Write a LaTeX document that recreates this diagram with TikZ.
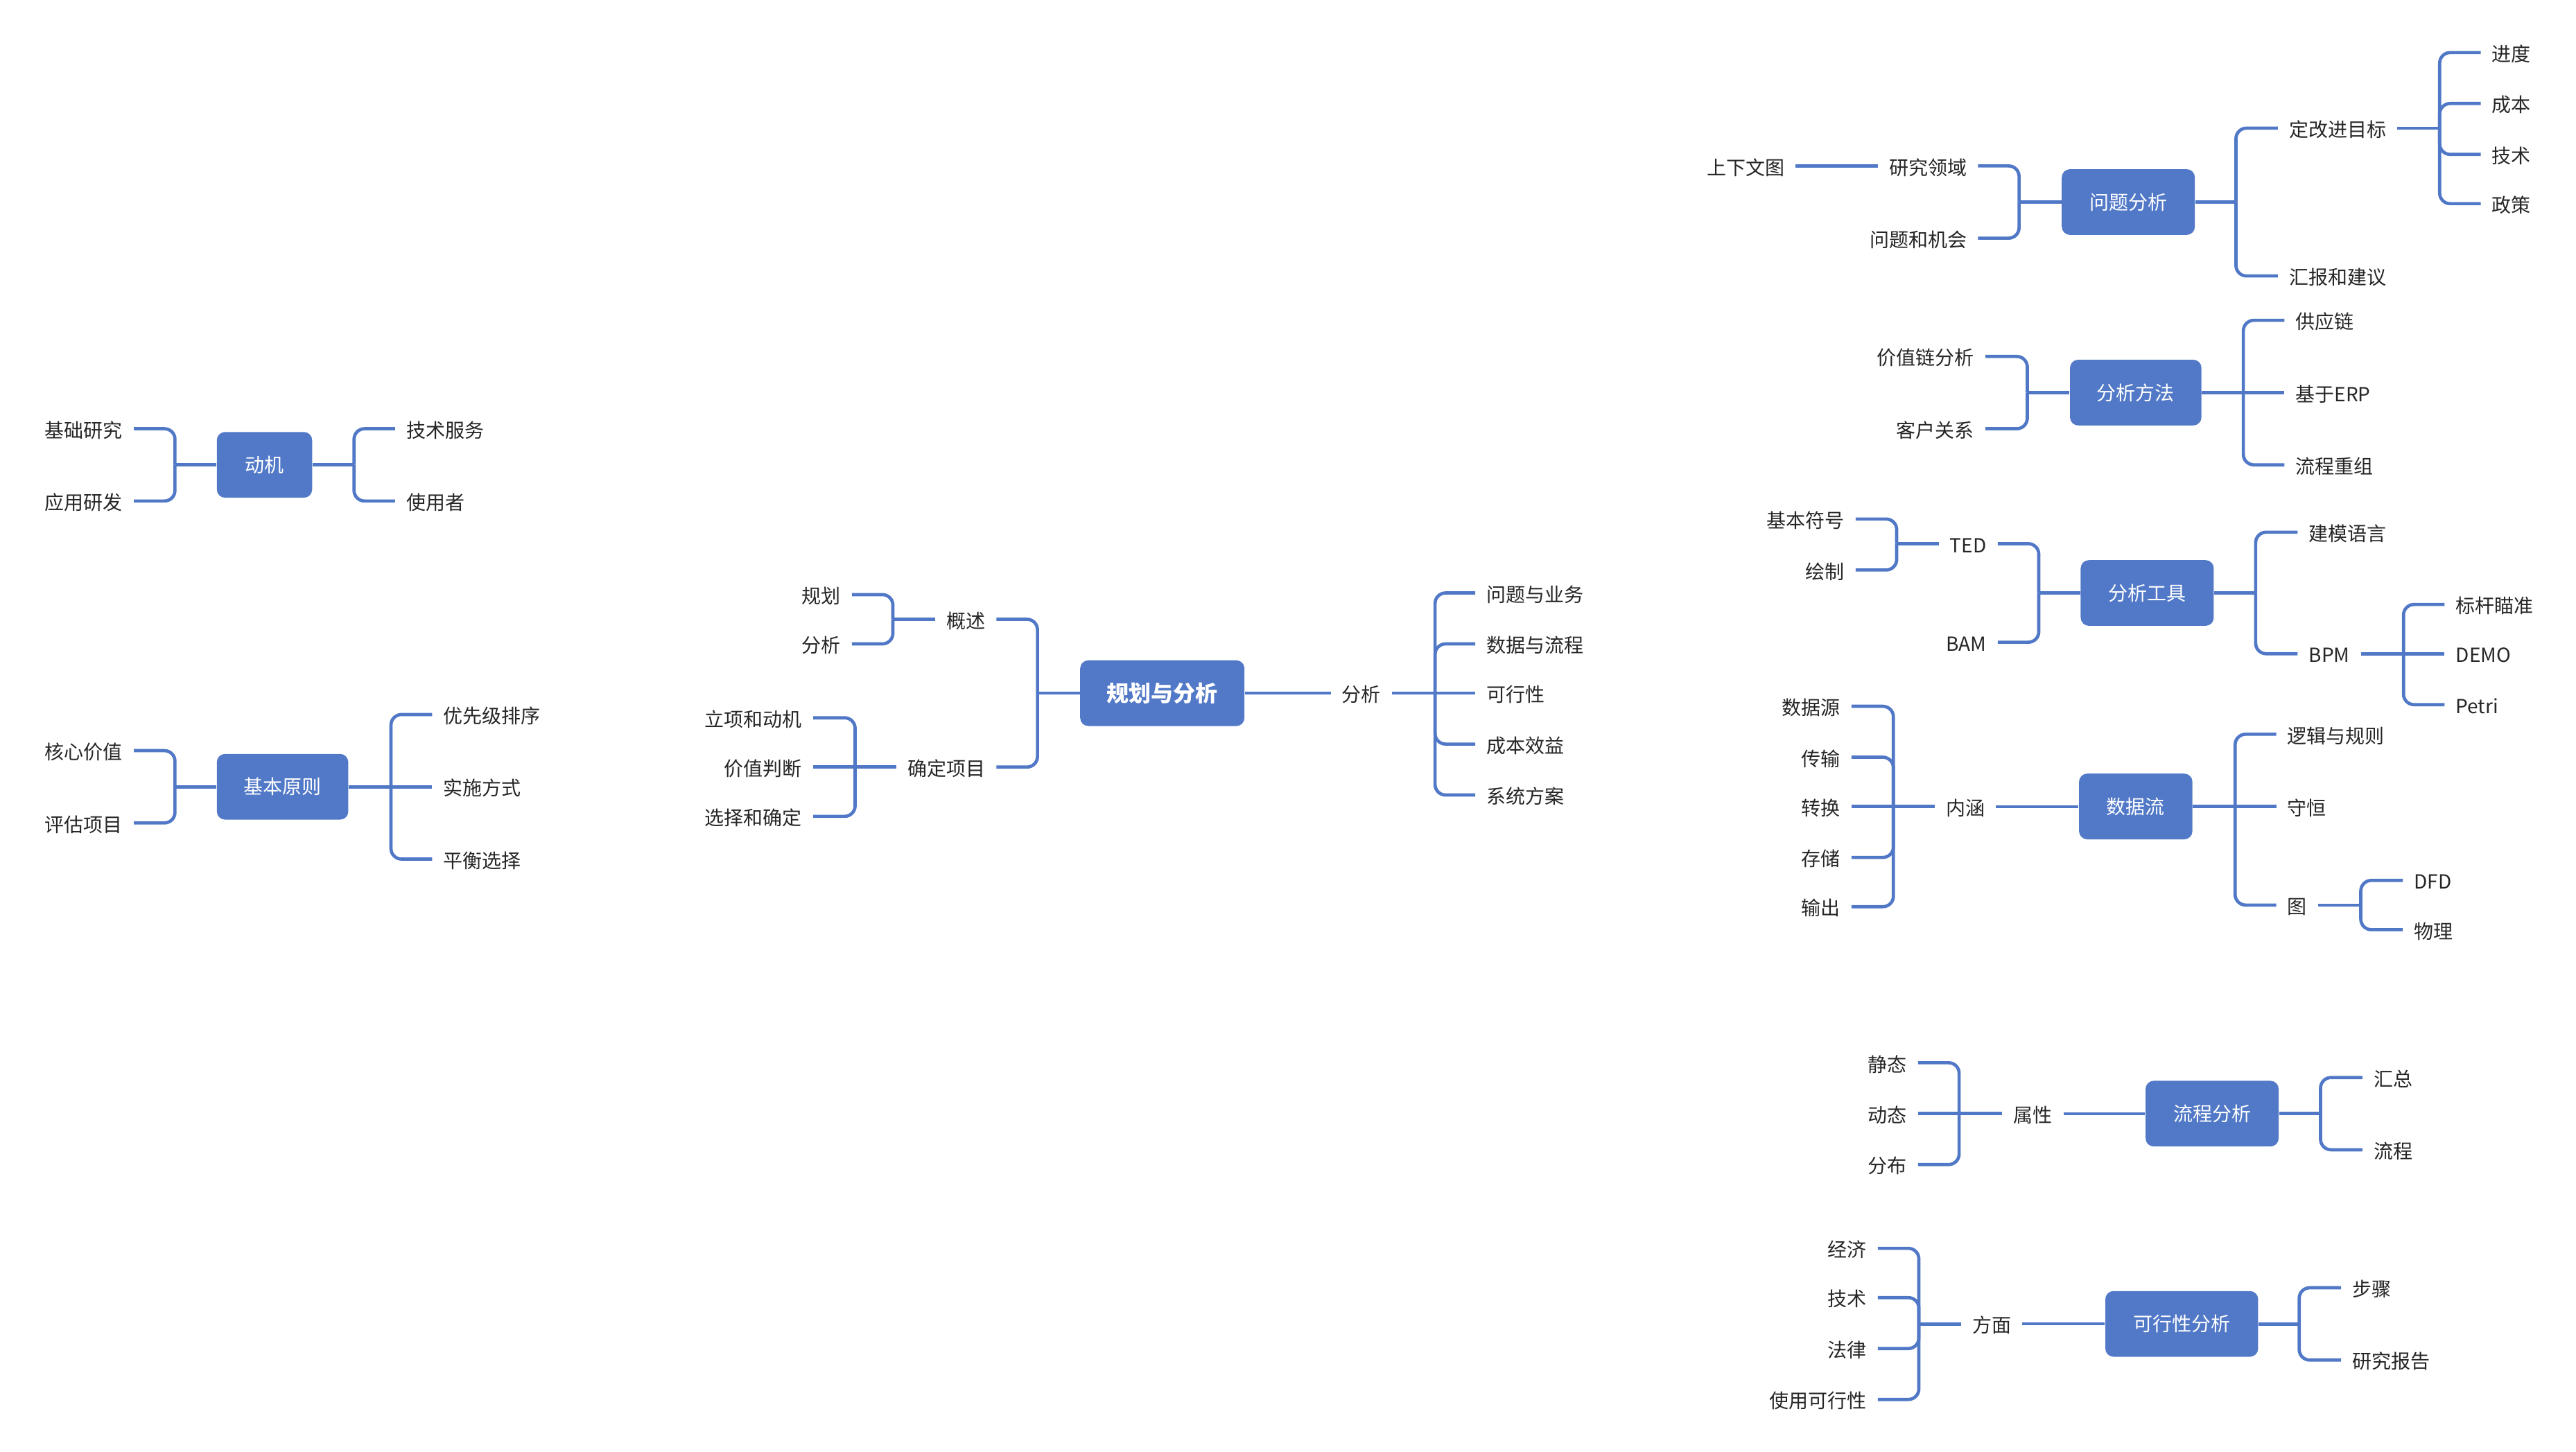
\documentclass[tikz,border=0pt]{standalone}
\usepackage{fontspec}
\newfontfamily\cjk{Noto Sans CJK SC}
\definecolor{lineblue}{RGB}{80,120,199}
\definecolor{boxblue}{RGB}{82,121,199}
\definecolor{txt}{RGB}{38,38,38}
\newcommand\kidsR[2]{\foreach \k in {#2}{\draw[conn] (#1) |- (\k.west);}}
\newcommand\kidsL[2]{\foreach \k in {#2}{\draw[conn] (#1) |- (\k.east);}}
\begin{document}
\begin{tikzpicture}[x=0.025cm,y=-0.025cm,
  conn/.style={draw=lineblue,line width=1.4pt,rounded corners=0.16cm},
  thinconn/.style={draw=lineblue,line width=1.15pt},
  topic/.style={rectangle,rounded corners=0.125cm,fill=boxblue,text=white,font=\cjk\fontsize{8.4}{10}\selectfont,minimum height=1cm,inner sep=0pt},
  lbl/.style={font=\cjk\fontsize{8.4}{10}\selectfont,text=txt,inner xsep=0.165cm,inner ysep=0pt,text height=0.84em,text depth=0.08em},
  lw/.style={lbl,anchor=west},
  le/.style={lbl,anchor=east}]
\fill[white] (0,0) rectangle (1568,884);
\useasboundingbox (0,0) rectangle (1568,884);

% ---------- 动机 ----------
\node[topic,minimum width=1.45cm] (ma) at (161,283) {动机};
\node[le] (maa) at (81.5,261) {基础研究};
\node[le] (mab) at (81.5,305) {应用研发};
\node[lw] (mac) at (240.5,261) {技术服务};
\node[lw] (mad) at (240.5,305) {使用者};
\draw[conn] (ma.west) -- (106.5,283) coordinate (maL);
\kidsL{maL}{maa,mab}
\draw[conn] (ma.east) -- (215.5,283) coordinate (maR);
\kidsR{maR}{mac,mad}

% ---------- 基本原则 ----------
\node[topic,minimum width=2cm] (mb) at (172,479) {基本原则};
\node[le] (mba) at (81.5,457) {核心价值};
\node[le] (mbb) at (81.5,501) {评估项目};
\node[lw] (mbc) at (263,435) {优先级排序};
\node[lw] (mbd) at (263,479) {实施方式};
\node[lw] (mbe) at (263,523) {平衡选择};
\draw[conn] (mb.west) -- (106.5,479) coordinate (mbL);
\kidsL{mbL}{mba,mbb}
\draw[conn] (mb.east) -- (238,479) coordinate (mbR);
\kidsR{mbR}{mbc,mbe}
\draw[conn] (mbR) -- (mbd.west);

% ---------- 规划与分析 ----------
\node[topic,minimum width=2.5cm,font=\cjk\bfseries\fontsize{9.6}{11}\selectfont] (c) at (707.5,422) {规划与分析};
\node[le] (ca) at (606.5,377) {概述};
\node[le] (cb) at (606.5,467) {确定项目};
\draw[conn] (c.west) -- (631.5,422) coordinate (cL);
\kidsL{cL}{ca,cb}
\node[le] (caa) at (518.5,362) {规划};
\node[le] (cab) at (518.5,392) {分析};
\draw[conn] (ca.west) -- (543.5,377) coordinate (caL);
\kidsL{caL}{caa,cab}
\node[le] (cba) at (495,437) {立项和动机};
\node[le] (cbb) at (495,467) {价值判断};
\node[le] (cbc) at (495,497) {选择和确定};
\draw[conn] (cb.west) -- (520.5,467) coordinate (cbL);
\kidsL{cbL}{cba,cbc}
\draw[conn] (cbL) -- (cbb.east);
\node[lw] (cc) at (810,422) {分析};
\draw[thinconn] (c.east) -- (cc.west);
\node[lw] (cca) at (898,361) {问题与业务};
\node[lw] (ccb) at (898,392) {数据与流程};
\node[lw] (ccc) at (898,422) {可行性};
\node[lw] (ccd) at (898,453) {成本效益};
\node[lw] (cce) at (898,484) {系统方案};
\draw[conn] (cc.east) -- (873.5,422) coordinate (ccR);
\kidsR{ccR}{cca,ccb,ccd,cce}
\draw[conn] (ccR) -- (ccc.west);

% ---------- 问题分析 ----------
\node[topic,minimum width=2.025cm] (pa) at (1295.5,123) {问题分析};
\node[le] (paa) at (1204,101) {研究领域};
\node[le] (pab) at (1204,145) {问题和机会};
\node[le] (pax) at (1093,101) {上下文图};
\draw[conn] (pa.west) -- (1229,123) coordinate (paL);
\kidsL{paL}{paa,pab}
\draw[conn] (paa.west) -- (pax.east);
\node[lw] (pac) at (1386.5,78) {定改进目标};
\node[lw] (pad) at (1386.5,168) {汇报和建议};
\draw[conn] (pa.east) -- (1361,123) coordinate (paR);
\kidsR{paR}{pac,pad}
\node[lw] (paca) at (1510,32) {进度};
\node[lw] (pacb) at (1510,63) {成本};
\node[lw] (pacc) at (1510,94) {技术};
\node[lw] (pacd) at (1510,124) {政策};
\draw[conn] (pac.east) -- (1485,78) coordinate (pacR);
\kidsR{pacR}{paca,pacb,pacc,pacd}

% ---------- 分析方法 ----------
\node[topic,minimum width=2cm] (pb) at (1300,239) {分析方法};
\node[le] (pba) at (1208.5,217) {价值链分析};
\node[le] (pbb) at (1208.5,261) {客户关系};
\draw[conn] (pb.west) -- (1234,239) coordinate (pbL);
\kidsL{pbL}{pba,pbb}
\node[lw] (pbc) at (1390.5,195) {供应链};
\node[lw] (pbd) at (1390.5,239) {基于ERP};
\node[lw] (pbe) at (1390.5,283) {流程重组};
\draw[conn] (pb.east) -- (1365.5,239) coordinate (pbR);
\kidsR{pbR}{pbc,pbe}
\draw[conn] (pbR) -- (pbd.west);

% ---------- 分析工具 ----------
\node[topic,minimum width=2.025cm] (pc) at (1307,361) {分析工具};
\node[le] (pca) at (1216,331) {TED};
\node[le] (pcb) at (1216,391) {BAM};
\draw[conn] (pc.west) -- (1241,361) coordinate (pcL);
\kidsL{pcL}{pca,pcb}
\node[le] (pcaa) at (1129.5,316) {基本符号};
\node[le] (pcab) at (1129.5,347) {绘制};
\draw[conn] (pca.west) -- (1154.5,331) coordinate (pcaL);
\kidsL{pcaL}{pcaa,pcab}
\node[lw] (pcc) at (1398.5,324) {建模语言};
\node[lw] (pcd) at (1398.5,398) {BPM};
\draw[conn] (pc.east) -- (1373,361) coordinate (pcR);
\kidsR{pcR}{pcc,pcd}
\node[lw] (pcda) at (1488,368) {标杆瞄准};
\node[lw] (pcdb) at (1488,398) {DEMO};
\node[lw] (pcdc) at (1488,429) {Petri};
\draw[conn] (pcd.east) -- (1463,398) coordinate (pcdR);
\kidsR{pcdR}{pcda,pcdc}
\draw[conn] (pcdR) -- (pcdb.west);

% ---------- 数据流 ----------
\node[topic,minimum width=1.725cm] (pd) at (1300,491) {数据流};
\node[le] (pda) at (1215,491) {内涵};
\draw[thinconn] (pda.east) -- (pd.west);
\node[le] (pdaa) at (1127,430) {数据源};
\node[le] (pdab) at (1127,461) {传输};
\node[le] (pdac) at (1127,491) {转换};
\node[le] (pdad) at (1127,522) {存储};
\node[le] (pdae) at (1127,552) {输出};
\draw[conn] (pda.west) -- (1152.5,491) coordinate (pdaL);
\kidsL{pdaL}{pdaa,pdab,pdad,pdae}
\draw[conn] (pdaL) -- (pdac.east);
\node[lw] (pdb) at (1385.5,447) {逻辑与规则};
\node[lw] (pdc) at (1385.5,491) {守恒};
\node[lw] (pdd) at (1385.5,551) {图};
\draw[conn] (pd.east) -- (1360.5,491) coordinate (pdR);
\kidsR{pdR}{pdb,pdd}
\draw[conn] (pdR) -- (pdc.west);
\node[lw] (pdda) at (1462.5,536) {DFD};
\node[lw] (pddb) at (1462.5,566) {物理};
\draw[conn] (pdd.east) -- (1437,551) coordinate (pddR);
\kidsR{pddR}{pdda,pddb}

% ---------- 流程分析 ----------
\node[topic,minimum width=2.025cm] (pe) at (1346.5,678) {流程分析};
\node[le] (pea) at (1256,678) {属性};
\draw[thinconn] (pea.east) -- (pe.west);
\node[le] (peaa) at (1167.5,647) {静态};
\node[le] (peab) at (1167.5,678) {动态};
\node[le] (peac) at (1167.5,709) {分布};
\draw[conn] (pea.west) -- (1192.5,678) coordinate (peaL);
\kidsL{peaL}{peaa,peac}
\draw[conn] (peaL) -- (peab.east);
\node[lw] (peb) at (1438,656) {汇总};
\node[lw] (pec) at (1438,700) {流程};
\draw[conn] (pe.east) -- (1412.5,678) coordinate (peR);
\kidsR{peR}{peb,pec}

% ---------- 可行性分析 ----------
\node[topic,minimum width=2.325cm] (pf) at (1328,806) {可行性分析};
\node[le] (pfa) at (1231,806) {方面};
\draw[thinconn] (pfa.east) -- (pf.west);
\node[le] (pfaa) at (1143,760) {经济};
\node[le] (pfab) at (1143,790) {技术};
\node[le] (pfac) at (1143,821) {法律};
\node[le] (pfad) at (1143,852) {使用可行性};
\draw[conn] (pfa.west) -- (1168,806) coordinate (pfaL);
\kidsL{pfaL}{pfaa,pfab,pfac,pfad}
\node[lw] (pfb) at (1425,784) {步骤};
\node[lw] (pfc) at (1425,828) {研究报告};
\draw[conn] (pf.east) -- (1399.5,806) coordinate (pfR);
\kidsR{pfR}{pfb,pfc}
\end{tikzpicture}
\end{document}
